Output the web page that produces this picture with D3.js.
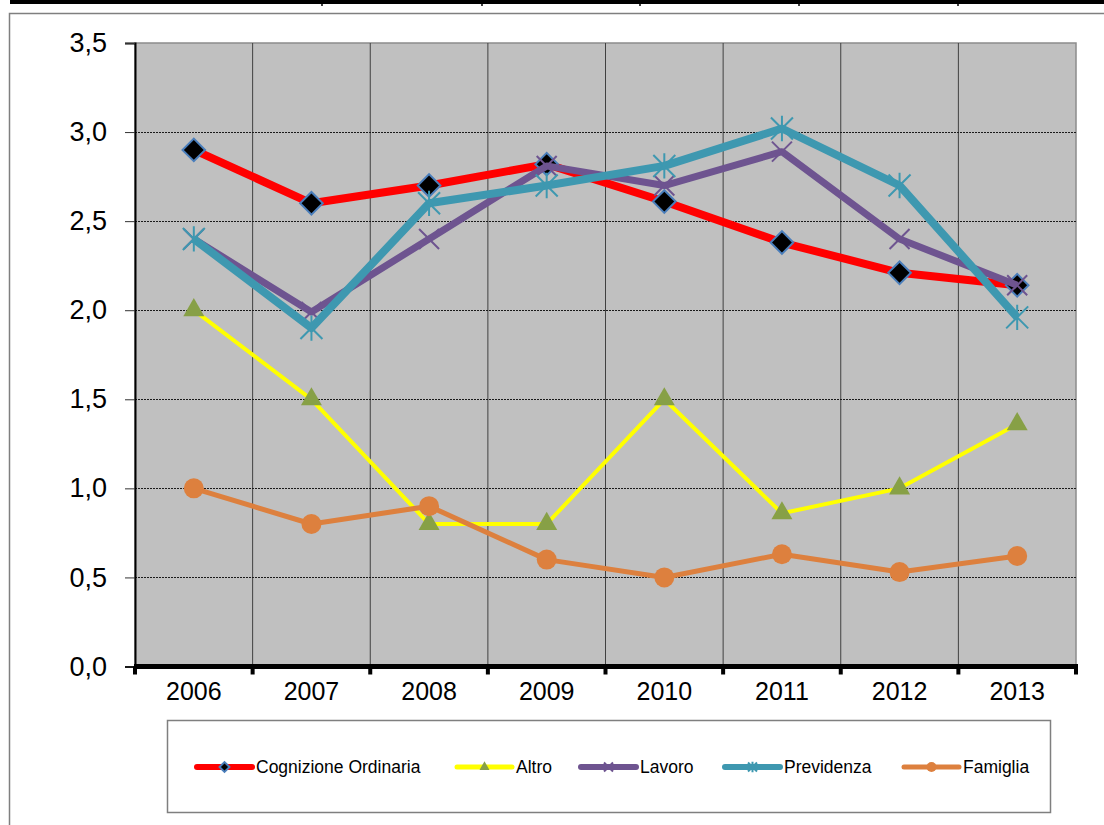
<!DOCTYPE html>
<html><head><meta charset="utf-8">
<script src="https://cdn.jsdelivr.net/npm/d3@7"></script>
<style>
html,body{margin:0;padding:0;background:#fff;}
svg{display:block;font-family:"Liberation Sans",Arial,sans-serif;}
</style></head>
<body>
<svg id="c" width="1104" height="825"></svg>
<script>
const years = ["2006","2007","2008","2009","2010","2011","2012","2013"];
const yTicks = [0,0.5,1,1.5,2,2.5,3,3.5];
const cognizione = [2.9,2.6,2.7,2.82,2.61,2.38,2.21,2.14];
const altro      = [2.0,1.5,0.8,0.8,1.5,0.86,1.0,1.36];
const lavoro     = [2.4,1.99,2.4,2.81,2.7,2.89,2.4,2.14];
const previdenza = [2.4,1.9,2.6,2.7,2.81,3.02,2.7,1.96];
const famiglia   = [1.0,0.8,0.9,0.6,0.5,0.63,0.53,0.62];
const seriesNames = ["Cognizione Ordinaria","Altro","Lavoro","Previdenza","Famiglia"];

const series = [
  {name:seriesNames[0], values:cognizione, color:"#ff0000", width:8, marker:"diamond"},
  {name:seriesNames[1], values:altro, color:"#ffff00", width:4, marker:"triangle"},
  {name:seriesNames[2], values:lavoro, color:"#6e5490", width:7, marker:"x"},
  {name:seriesNames[3], values:previdenza, color:"#3e98b0", width:8, marker:"star"},
  {name:seriesNames[4], values:famiglia, color:"#dd803e", width:5, marker:"circle"}
];

const svg = d3.select("#c");
const L=135, R=1076, T=43, B=666.5;
const x = d3.scaleBand().domain(years).range([L,R]);
const y = d3.scaleLinear().domain([0,3.5]).range([B,T]);

// top table remnant
svg.append("rect").attr("x",10).attr("y",0).attr("width",1094).attr("height",4).attr("fill","#000");
[322,482,640,799,958].forEach(px=>svg.append("line").attr("x1",px).attr("x2",px).attr("y1",0).attr("y2",6).attr("stroke","#000").attr("stroke-width",1.5));

// chart frame
svg.append("rect").attr("x",9.5).attr("y",13.5).attr("width",1110).attr("height",830).attr("fill","#fff").attr("stroke","#7f7f7f").attr("stroke-width",1.5);

// plot area
svg.append("rect").attr("x",L).attr("y",T).attr("width",R-L).attr("height",B-T).attr("fill","#c0c0c0").attr("stroke","#8c8c8c").attr("stroke-width",1.5);

// vertical gridlines
svg.append("g").selectAll("line").data(years.slice(1)).join("line")
  .attr("x1",d=>x(d)).attr("x2",d=>x(d)).attr("y1",T).attr("y2",B)
  .attr("stroke","#404040").attr("stroke-width",1);
// horizontal dotted gridlines
svg.append("g").selectAll("line").data(yTicks.filter(v=>v>0&&v<3.5)).join("line")
  .attr("x1",L).attr("x2",R).attr("y1",d=>Math.round(y(d))+0.5).attr("y2",d=>Math.round(y(d))+0.5)
  .attr("stroke","#1a1a1a").attr("stroke-width",1).attr("stroke-dasharray","2,1");

// y axis
const yAxis = d3.axisLeft(y).tickValues(yTicks).tickSize(10).tickPadding(18)
  .tickFormat(d=>d3.format(".1f")(d).replace(".",","));
const gy = svg.append("g").attr("transform",`translate(${L},0)`).call(yAxis);
gy.select(".domain").attr("stroke","#000").attr("stroke-width",2);
gy.selectAll(".tick line").attr("stroke","#333").attr("stroke-width",1);
gy.selectAll("text").attr("font-size",27).attr("fill","#000").attr("font-family","Liberation Sans, Arial, sans-serif");

// x axis
const xAxis = d3.axisBottom(x).tickSize(0).tickPadding(16);
const gx = svg.append("g").attr("transform",`translate(0,${B})`).call(xAxis);
gx.select(".domain").remove();
gx.selectAll("text").attr("font-size",25).attr("fill","#000").attr("font-family","Liberation Sans, Arial, sans-serif");
svg.append("line").attr("x1",L-1).attr("x2",R+2).attr("y1",B).attr("y2",B).attr("stroke","#000").attr("stroke-width",5);
const bounds = years.map(d=>x(d)).concat([x(years[years.length-1])+x.bandwidth()]);
svg.append("g").selectAll("rect").data(bounds).join("rect")
  .attr("x",d=>d-2).attr("y",B).attr("width",4).attr("height",8).attr("fill","#000");

// marker drawing
function drawMarker(g, type, color, s){
  if(type==="diamond"){
    g.append("path").attr("d",d3.symbol(d3.symbolSquare, s*s)()).attr("transform","rotate(45)")
      .attr("fill","#000").attr("stroke","#4a7ebb").attr("stroke-width",2);
  } else if(type==="triangle"){
    g.append("path").attr("d",d3.symbol(d3.symbolTriangle, s*s*0.433)()).attr("fill","#87a046");
  } else if(type==="circle"){
    g.append("circle").attr("r",s/2).attr("fill",color);
  } else if(type==="x"){
    const h=s/2;
    g.append("path").attr("d",`M${-h},${-h}L${h},${h}M${-h},${h}L${h},${-h}`).attr("stroke",color).attr("stroke-width",2).attr("fill","none");
  } else if(type==="star"){
    const h=s/2;
    g.append("path").attr("d",`M${-h},${-h}L${h},${h}M${-h},${h}L${h},${-h}M0,${-h*1.15}L0,${h*1.15}`).attr("stroke",color).attr("stroke-width",2).attr("fill","none");
  }
}
const msize = {diamond:16, triangle:21, circle:20, x:20, star:22};

const line = d3.line().x((d,i)=>x(years[i])+x.bandwidth()/2).y(d=>y(d));
series.forEach(s=>{
  const g = svg.append("g");
  g.append("path").datum(s.values).attr("d",line).attr("fill","none")
    .attr("stroke",s.color).attr("stroke-width",s.width).attr("stroke-linejoin","round");
  s.values.forEach((v,i)=>{
    const mg = g.append("g").attr("transform",`translate(${x(years[i])+x.bandwidth()/2},${y(v)})`);
    drawMarker(mg, s.marker, s.color, msize[s.marker]);
  });
});

// legend
svg.append("rect").attr("x",167.5).attr("y",720.5).attr("width",883).attr("height",92).attr("fill","#fff").attr("stroke","#7f7f7f").attr("stroke-width",1.5);
const legX = [197,457,581,725,904];
const lsize = {diamond:7, triangle:10, circle:10, x:9, star:9};
const lg = svg.append("g");
series.forEach((s,i)=>{
  const g = lg.append("g").attr("transform",`translate(${legX[i]},767)`);
  g.append("line").attr("x1",0).attr("x2",55).attr("y1",0).attr("y2",0).attr("stroke",s.color).attr("stroke-width",s.width>=7?6:5).attr("stroke-linecap","round");
  const mg = g.append("g").attr("transform","translate(27.5,0)");
  drawMarker(mg, s.marker, s.color, lsize[s.marker]);
  g.append("text").attr("x",59).attr("y",0).attr("dy","0.35em").attr("font-size",17.5).attr("fill","#000").text(s.name);
});
</script>
</body></html>
